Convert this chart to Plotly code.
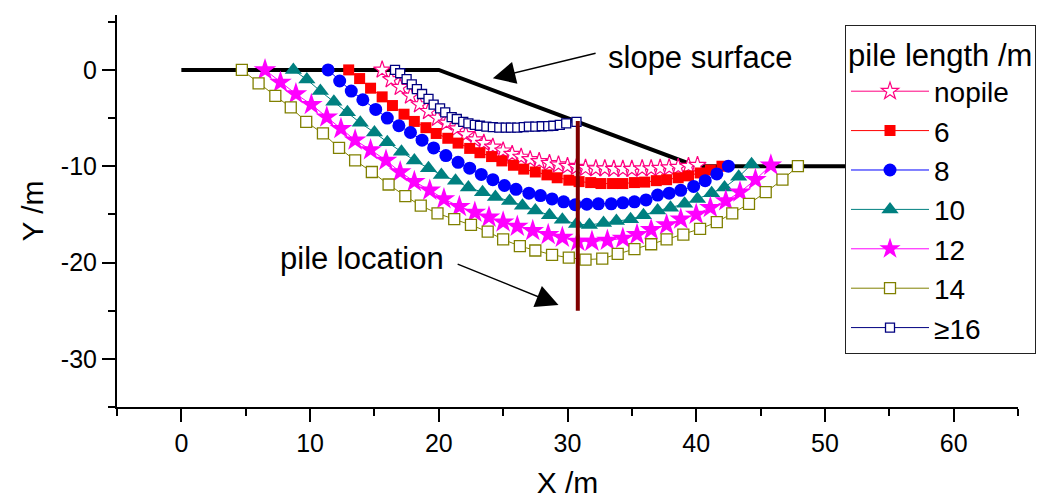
import plotly.graph_objects as go

# ---------------- data ----------------
slope_x = [0, 20, 40, 60]
slope_y = [0, 0, -10, -10]

pile_x = [30.8, 30.8]
pile_y = [-5.3, -25]

series_names = ["nopile", "6", "8", "10", "12", "14", "≥16"]

x_ticks = [0, 10, 20, 30, 40, 50, 60]
x_ticktext = ["0", "10", "20", "30", "40", "50", "60"]
y_ticks = [0, -10, -20, -30]
y_ticktext = ["0", "-10", "-20", "-30"]

x_nopile = [15.6, 16.3, 17.0, 17.8, 18.5, 19.2, 19.9, 20.6, 21.4, 22.1, 22.8, 23.5, 24.2, 25.0, 25.7,
            26.4, 27.1, 27.8, 28.6, 29.3, 30.0, 30.7, 31.4, 32.2, 32.9, 33.6, 34.3, 35.0, 35.8, 36.5,
            37.2, 37.9, 38.6, 39.4, 40.1]
y_nopile = [0, -1.0, -1.8, -2.7, -3.6, -4.3, -5.0, -5.5, -6.1, -6.7, -7.25, -7.6, -8.0, -8.4, -8.75,
            -9.05, -9.3, -9.5, -9.7, -9.85, -10.0, -10.1, -10.2, -10.25, -10.25, -10.3, -10.3, -10.3, -10.25, -10.25,
            -10.2, -10.15, -10.1, -10.0, -9.9]

x_6 = [13.0, 13.85, 14.7, 15.6, 16.4, 17.3, 18.1, 19.0, 19.8, 20.7, 21.5, 22.4, 23.2, 24.1, 24.9,
       25.8, 26.6, 27.5, 28.4, 29.2, 30.1, 30.9, 31.8, 32.6, 33.5, 34.3, 35.2, 36.0, 36.9, 37.7,
       38.6, 39.4, 40.3, 41.1, 42.0]
y_6 = [0, -0.9, -1.9, -2.8, -3.7, -4.6, -5.35, -6.0, -6.6, -7.1, -7.6, -8.15, -8.6, -9.0, -9.45,
       -9.9, -10.3, -10.6, -10.9, -11.2, -11.45, -11.6, -11.7, -11.8, -11.8, -11.8, -11.7, -11.65, -11.5, -11.4,
       -11.2, -11.0, -10.7, -10.4, -10.0]

x_8 = [11.4, 12.3, 13.2, 14.1, 15.1, 16.0, 16.9, 17.8, 18.7, 19.6, 20.55, 21.5, 22.4, 23.3, 24.2,
       25.1, 26.0, 27.0, 27.9, 28.8, 29.7, 30.6, 31.5, 32.4, 33.4, 34.3, 35.2, 36.1, 37.0, 37.9,
       38.8, 39.8, 40.7, 41.6, 42.5]
y_8 = [0, -1.15, -2.2, -3.1, -4.1, -5.0, -5.8, -6.5, -7.3, -8.1, -8.9, -9.6, -10.2, -10.85, -11.4,
       -12.0, -12.4, -12.8, -13.05, -13.4, -13.7, -14.0, -13.95, -13.9, -13.9, -13.8, -13.7, -13.5, -13.0, -12.8,
       -12.5, -12.1, -11.5, -10.8, -10.0]

x_10 = [8.7, 9.75, 10.8, 11.85, 12.9, 13.9, 15.0, 16.0, 17.1, 18.1, 19.2, 20.2, 21.3, 22.3, 23.4,
        24.4, 25.5, 26.5, 27.5, 28.6, 29.6, 30.7, 31.7, 32.8, 33.8, 34.9, 35.9, 37.0, 38.0, 39.1,
        40.1, 41.2, 42.2, 43.3, 44.3]
y_10 = [0, -1.0, -2.2, -3.3, -4.4, -5.5, -6.5, -7.5, -8.5, -9.4, -10.2, -10.9, -11.5, -12.2, -12.7,
        -13.2, -13.6, -14.1, -14.6, -15.1, -15.55, -16.0, -16.1, -15.9, -15.7, -15.5, -15.1, -14.6, -14.3, -13.9,
        -13.4, -12.8, -12.2, -11.1, -9.8]

x_12 = [6.5, 7.7, 8.9, 10.1, 11.3, 12.4, 13.5, 14.7, 15.9, 17.0, 18.1, 19.3, 20.4, 21.6, 22.8,
        23.9, 25.0, 26.1, 27.3, 28.5, 29.6, 30.8, 31.9, 33.1, 34.3, 35.4, 36.5, 37.7, 38.8, 40.0,
        41.1, 42.3, 43.4, 44.6, 45.8]
y_12 = [0, -1.3, -2.5, -3.6, -4.9, -6.1, -7.3, -8.3, -9.4, -10.6, -11.6, -12.5, -13.4, -14.2, -14.8,
        -15.3, -15.8, -16.25, -16.7, -17.1, -17.4, -17.8, -17.8, -17.7, -17.5, -17.1, -16.6, -16.1, -15.5, -15.0,
        -14.3, -13.6, -12.7, -11.4, -9.9]

x_14 = [4.7, 6.0, 7.3, 8.5, 9.7, 11.0, 12.25, 13.5, 14.8, 16.1, 17.4, 18.6, 19.9, 21.2, 22.5,
        23.8, 25.0, 26.3, 27.5, 28.8, 30.1, 31.4, 32.7, 33.9, 35.2, 36.5, 37.7, 39.0, 40.3, 41.6,
        42.8, 44.1, 45.4, 46.7, 47.9]
y_14 = [0, -1.4, -2.7, -3.9, -5.4, -6.6, -8.1, -9.4, -10.6, -11.9, -13.1, -14.1, -14.9, -15.5, -16.1,
        -16.8, -17.6, -18.3, -18.75, -19.2, -19.5, -19.7, -19.6, -19.1, -18.6, -18.1, -17.6, -17.1, -16.5, -15.8,
        -14.9, -13.9, -12.7, -11.4, -10.0]

x_16 = [16.6, 17.0, 17.5, 17.9, 18.3, 18.7, 19.2, 19.6, 20.1, 20.5, 21.0, 21.4, 21.9, 22.3, 22.8,
        23.2, 23.7, 24.2, 24.7, 25.2, 25.6, 26.1, 26.6, 27.0, 27.5, 28.0, 28.5, 28.9, 29.4, 29.9, 30.7]
y_16 = [0, -0.35, -0.95, -1.5, -2.0, -2.5, -3.0, -3.6, -4.0, -4.4, -4.9, -5.1, -5.4, -5.55, -5.7,
        -5.8, -5.9, -5.95, -6.0, -6.0, -6.0, -6.0, -5.95, -5.9, -5.9, -5.85, -5.83, -5.8, -5.7, -5.55, -5.4]

# ---------------- styles ----------------
FONT = "Arial, 'Liberation Sans', sans-serif"
styles = [
    dict(color="#ff0080", symbol="star", fill="white", size=13, lw=1.2),
    dict(color="#ff0000", symbol="square", fill="#ff0000", size=11, lw=0),
    dict(color="#0000ff", symbol="circle", fill="#0000ff", size=13, lw=0),
    dict(color="#008080", symbol="triangle-up", fill="#008080", size=15, lw=0),
    dict(color="#ff00ff", symbol="star", fill="#ff00ff", size=17, lw=0),
    dict(color="#808000", symbol="square", fill="white", size=11, lw=1.3),
    dict(color="#000080", symbol="square", fill="white", size=9, lw=1.3),
]
xs = [x_nopile, x_6, x_8, x_10, x_12, x_14, x_16]
ys = [y_nopile, y_6, y_8, y_10, y_12, y_14, y_16]

fig = go.Figure()

# slope surface
fig.add_trace(go.Scatter(x=slope_x, y=slope_y, mode="lines",
                         line=dict(color="black", width=4), showlegend=False, hoverinfo="skip"))

for name, x, y, st in zip(series_names, xs, ys, styles):
    fig.add_trace(go.Scatter(
        x=x, y=y, name=name, mode="lines+markers",
        line=dict(color=st["color"], width=1),
        marker=dict(symbol=st["symbol"], size=st["size"], color=st["fill"],
                    line=dict(color=st["color"], width=st["lw"])),
    ))

# pile
fig.add_trace(go.Scatter(x=pile_x, y=pile_y, mode="lines",
                         line=dict(color="#800000", width=4), showlegend=False, hoverinfo="skip"))

# annotations
fig.add_annotation(x=24.2, y=-0.86, ax=32.3, ay=1.77, xref="x", yref="y", axref="x", ayref="y",
                   text="", showarrow=True, arrowhead=2, arrowsize=3, arrowwidth=1.5, arrowcolor="black")
fig.add_annotation(x=40.3, y=1.25, xref="x", yref="y", text="slope surface", showarrow=False,
                   font=dict(size=31, family=FONT, color="black"))
fig.add_annotation(x=29.3, y=-24.4, ax=21.35, ay=-20.1, xref="x", yref="y", axref="x", ayref="y",
                   text="", showarrow=True, arrowhead=2, arrowsize=3, arrowwidth=1.5, arrowcolor="black")
fig.add_annotation(x=14.0, y=-19.6, xref="x", yref="y", text="pile location", showarrow=False,
                   font=dict(size=31, family=FONT, color="black"))

axis_common = dict(showline=True, linewidth=2, linecolor="black", showgrid=False, zeroline=False,
                   ticks="outside", ticklen=13, tickwidth=2, tickcolor="black", automargin=False,
                   tickfont=dict(size=25, family=FONT, color="black"),
                   minor=dict(ticks="outside", ticklen=7, tickwidth=2, tickcolor="black", dtick=5, showgrid=False))

fig.update_xaxes(range=[-5, 65], tickmode="array", tickvals=x_ticks, ticktext=x_ticktext,
                 title=dict(text="X /m", font=dict(size=30, family=FONT, color="black"), standoff=22),
                 **axis_common)
fig.update_yaxes(range=[-35, 5.7], tickmode="array", tickvals=y_ticks, ticktext=y_ticktext,
                 title=dict(text="Y /m", font=dict(size=30, family=FONT, color="black"), standoff=8),
                 **axis_common)

fig.update_layout(
    width=1046, height=499,
    margin=dict(l=117, r=28, t=15, b=92, autoexpand=False),
    plot_bgcolor="white", paper_bgcolor="white",
    font=dict(family=FONT, color="black"),
    legend=dict(x=0.808, y=0.974, xanchor="left", yanchor="top",
                bgcolor="white", bordercolor="#222222", borderwidth=1,
                font=dict(size=28, family=FONT, color="black"),
                title=dict(text="pile length /m", font=dict(size=31, family=FONT, color="black")),
                itemwidth=78, tracegroupgap=0),
)

fig.write_html("out.html")
